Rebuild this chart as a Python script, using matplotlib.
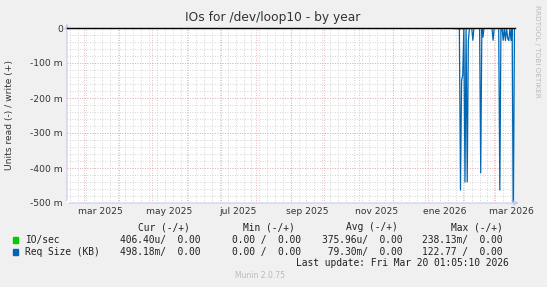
import numpy as np
import pandas as pd
import matplotlib
matplotlib.use("Agg")
import matplotlib.pyplot as plt

# time range of the yearly munin graph
start = pd.Timestamp("2025-02-14")
end = pd.Timestamp("2026-03-19 12:00")

# days with read activity (Req Size, read side, shown negative)
spike_dates = ["2026-01-30", "2026-01-31", "2026-02-01", "2026-02-03", "2026-02-05",
               "2026-02-06", "2026-02-10", "2026-02-17", "2026-02-19", "2026-02-28",
               "2026-03-06", "2026-03-09", "2026-03-11", "2026-03-13", "2026-03-14",
               "2026-03-16", "2026-03-18"]
req_read = [-0.463, -0.150, -0.135, -0.440, -0.440,
            -0.037, -0.035, -0.414, -0.026, -0.035,
            -0.463, -0.035, -0.036, -0.030, -0.036,
            -0.036, -0.600]

# IO/sec read side (tiny values)
io_dates = ["2026-01-24", "2026-01-26", "2026-01-28", "2026-01-30", "2026-02-01",
            "2026-02-03", "2026-02-05"]
io_read = [-0.003, -0.003, -0.004, -0.004, -0.004, -0.003, -0.003]

month_labels = ["mar 2025", "may 2025", "jul 2025", "sep 2025", "nov 2025", "ene 2026", "mar 2026"]
month_starts = ["2025-03-01", "2025-05-01", "2025-07-01", "2025-09-01", "2025-11-01",
                "2026-01-01", "2026-03-01"]
y_ticks = [0, -0.1, -0.2, -0.3, -0.4, -0.5]
y_labels = ["0", "-100 m", "-200 m", "-300 m", "-400 m", "-500 m"]

days = pd.date_range(start.normalize(), end.normalize(), freq="D")
req = pd.Series(0.0, index=days)
req[pd.to_datetime(spike_dates)] = req_read
io = pd.Series(0.0, index=days)
io[pd.to_datetime(io_dates)] = io_read

fig = plt.figure(figsize=(5.47, 2.87), dpi=100, facecolor="#f0f0f0")
ax = fig.add_axes([67 / 547, 1 - 203 / 287, 448 / 547, 175 / 287])
ax.set_facecolor("white")

ax.plot(io.index, io.values, color="#00cc00", lw=0.8)
ax.plot(req.index, req.values, color="#0066b3", lw=0.9)
ax.plot(days, np.zeros(len(days)), color="#00cc00", lw=0.8)
ax.axhline(0, color="black", lw=1.0, clip_on=False, zorder=5)

ax.set_xlim(start, end)
ax.set_ylim(-0.5, 0)

# grid: weekly / 20m minor, monthly / 100m major
weeks = pd.date_range("2025-02-17", end, freq="7D")
for w in weeks:
    ax.axvline(w, color="#c8c8c8", lw=0.6, ls=(0, (1, 2)), zorder=0)
for yv in np.arange(-0.48, 0, 0.02):
    ax.axhline(yv, color="#c8c8c8", lw=0.6, ls=(0, (1, 2)), zorder=0)
months = pd.date_range("2025-03-01", end, freq="MS")
for m in months:
    ax.axvline(m, color="#e5a0a0", lw=0.6, ls=(0, (1, 2)), zorder=1)
for yv in y_ticks[1:-1]:
    ax.axhline(yv, color="#e5a0a0", lw=0.6, ls=(0, (1, 2)), zorder=1)

label_pos = [pd.Timestamp(d) + pd.Timedelta(days=15) for d in month_starts]
ax.set_xticks(label_pos)
ax.set_xticklabels(month_labels, fontsize=6.6, color="#333333")
ax.set_yticks(y_ticks)
ax.set_yticklabels(y_labels, fontsize=6.6, color="#333333")
ax.tick_params(length=0, pad=3)
for s in ax.spines.values():
    s.set_visible(False)

axis_col = "#c8c8f0"
ax.annotate("", xy=(1.015, 0), xytext=(-0.002, 0), xycoords="axes fraction",
            arrowprops=dict(arrowstyle="-|>", color=axis_col, lw=0.8, mutation_scale=7))
ax.annotate("", xy=(0, 1.04), xytext=(0, -0.002), xycoords="axes fraction",
            arrowprops=dict(arrowstyle="-|>", color=axis_col, lw=0.8, mutation_scale=7))

fig.text(273 / 547, 1 - 18 / 287, "IOs for /dev/loop10 - by year", ha="center", va="center",
         fontsize=8.8, color="#333333")
fig.text(10 / 547, 1 - 115 / 287, "Units read (-) / write (+)", rotation=90, ha="center",
         va="center", fontsize=6.6, color="#333333")
fig.text(537 / 547, 1 - 5 / 287, "RRDTOOL / TOBI OETIKER", rotation=270, ha="center",
         va="top", fontsize=5.2, color="#bbbbbb")

mono = dict(family="DejaVu Sans Mono", fontsize=6.9, color="#222222", va="center")

def put(x, y, s, ha="right"):
    fig.text(x / 547, 1 - y / 287, s, ha=ha, **mono)

put(190, 227, "Cur (-/+)")
put(295, 227, "Min (-/+)")
put(398, 227, "Avg (-/+)")
put(503, 227, "Max (-/+)")

rows = [
    ("IO/sec", "#00cc00", ["406.40u/  0.00", "0.00 /  0.00", "375.96u/  0.00", "238.13m/  0.00"]),
    ("Req Size (KB)", "#0066b3", ["498.18m/  0.00", "0.00 /  0.00", " 79.30m/  0.00", "122.77 /  0.00"]),
]
col_end = [200, 301, 402, 503]
for i, (name, col, vals) in enumerate(rows):
    y = 240 + 12 * i
    fig.patches.append(plt.Rectangle((13 / 547, 1 - (y + 3) / 287), 5 / 547, 6 / 287,
                                     transform=fig.transFigure, color=col))
    put(25, y, name, ha="left")
    for xe, v in zip(col_end, vals):
        put(xe, y, v)

put(509, 263, "Last update: Fri Mar 20 01:05:10 2026")
fig.text(260 / 547, 1 - 276 / 287, "Munin 2.0.75", ha="center", va="center",
         fontsize=5.5, color="#bbbbbb")

fig.savefig("out.png", dpi=100, facecolor=fig.get_facecolor())
